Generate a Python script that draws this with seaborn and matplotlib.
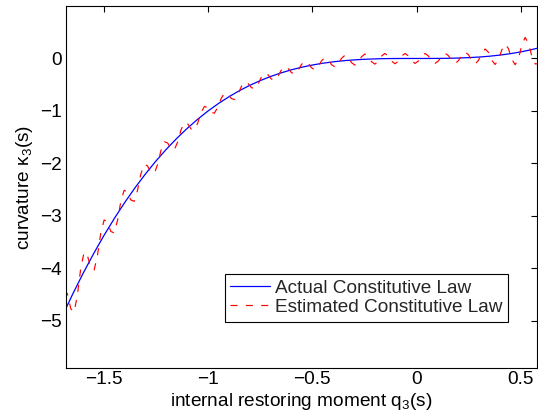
import matplotlib
matplotlib.use("Agg")
import matplotlib.pyplot as plt
import seaborn as sns
import pandas as pd

# ---------------- data ----------------
q_actual = [-1.70, -1.65, -1.60, -1.55, -1.50, -1.45, -1.40, -1.35, -1.30, -1.25,
            -1.20, -1.15, -1.10, -1.05, -1.00, -0.95, -0.90, -0.85, -0.80, -0.75,
            -0.70, -0.65, -0.60, -0.55, -0.50, -0.45, -0.40, -0.35, -0.30, -0.25,
            -0.20, -0.15, -0.10, -0.05, 0.00, 0.05, 0.10, 0.15, 0.20, 0.25,
            0.30, 0.35, 0.40, 0.45, 0.50, 0.55, 0.60]
k_actual = [-4.913, -4.492, -4.096, -3.724, -3.375, -3.049, -2.744, -2.460, -2.197, -1.953,
            -1.728, -1.521, -1.331, -1.158, -1.000, -0.857, -0.729, -0.614, -0.512, -0.422,
            -0.343, -0.275, -0.216, -0.166, -0.125, -0.091, -0.064, -0.043, -0.027, -0.016,
            -0.008, -0.003, -0.001, 0.000, 0.000, 0.000, 0.001, 0.003, 0.008, 0.016,
            0.027, 0.043, 0.064, 0.091, 0.125, 0.166, 0.216]

q_est = [-1.691, -1.675, -1.659, -1.643, -1.627, -1.611, -1.595, -1.579, -1.563, -1.547,
         -1.531, -1.515, -1.499, -1.483, -1.467, -1.451, -1.435, -1.419, -1.403, -1.387,
         -1.371, -1.355, -1.339, -1.323, -1.307, -1.291, -1.274, -1.258, -1.242, -1.226,
         -1.210, -1.194, -1.178, -1.162, -1.146, -1.130, -1.114, -1.098, -1.082, -1.066,
         -1.050, -1.034, -1.018, -1.002, -0.986, -0.970, -0.954, -0.937, -0.921, -0.905,
         -0.889, -0.873, -0.857, -0.841, -0.825, -0.809, -0.793, -0.777, -0.761, -0.745,
         -0.729, -0.713, -0.697, -0.681, -0.665, -0.649, -0.633, -0.617, -0.601, -0.585,
         -0.569, -0.553, -0.536, -0.520, -0.504, -0.488, -0.472, -0.456, -0.440, -0.424,
         -0.408, -0.392, -0.376, -0.360, -0.344, -0.328, -0.312, -0.296, -0.280, -0.264,
         -0.248, -0.232, -0.216, -0.200, -0.184, -0.168, -0.152, -0.135, -0.119, -0.103,
         -0.087, -0.071, -0.055, -0.039, -0.023, -0.007, 0.009, 0.025, 0.041, 0.057,
         0.073, 0.089, 0.105, 0.121, 0.137, 0.153, 0.169, 0.186, 0.201, 0.217,
         0.233, 0.249, 0.265, 0.281, 0.297, 0.313, 0.329, 0.345, 0.361, 0.377,
         0.393, 0.409, 0.425, 0.441, 0.457, 0.473, 0.489, 0.505, 0.521, 0.537,
         0.554, 0.570, 0.586]
k_est = [-4.405, -4.489, -4.771, -4.835, -4.502, -3.991, -3.693, -3.759, -3.991, -4.032,
         -3.749, -3.327, -3.078, -3.119, -3.297, -3.325, -3.088, -2.727, -2.512, -2.545,
         -2.697, -2.723, -2.516, -2.206, -2.018, -2.047, -2.171, -2.191, -2.014, -1.748,
         -1.587, -1.612, -1.723, -1.739, -1.589, -1.360, -1.222, -1.245, -1.344, -1.361,
         -1.232, -1.034, -0.915, -0.937, -1.026, -1.043, -0.932, -0.760, -0.657, -0.680,
         -0.763, -0.783, -0.687, -0.537, -0.449, -0.473, -0.554, -0.579, -0.495, -0.360,
         -0.281, -0.309, -0.391, -0.419, -0.345, -0.222, -0.154, -0.185, -0.267, -0.300,
         -0.234, -0.119, -0.054, -0.091, -0.178, -0.216, -0.155, -0.045, 0.015, -0.026,
         -0.118, -0.160, -0.103, 0.003, 0.059, 0.015, -0.080, -0.126, -0.072, 0.032,
         0.085, 0.038, -0.060, -0.108, -0.056, 0.045, 0.096, 0.048, -0.052, -0.101,
         -0.051, 0.050, 0.095, 0.048, -0.048, -0.095, -0.048, 0.048, 0.095, 0.048,
         -0.048, -0.094, -0.047, 0.050, 0.100, 0.053, -0.045, -0.094, -0.042, 0.063,
         0.123, 0.073, -0.041, -0.103, -0.039, 0.098, 0.181, 0.117, -0.033, -0.114,
         -0.027, 0.161, 0.272, 0.188, -0.012, -0.119, -0.002, 0.254, 0.401, 0.290,
         0.030, -0.105, -0.099]

x_ticks = [-1.5, -1.0, -0.5, 0.0, 0.5]
x_tick_labels = ["\u22121.5", "\u22121", "\u22120.5", "0", "0.5"]
y_ticks = [-5, -4, -3, -2, -1, 0]
y_tick_labels = ["\u22125", "\u22124", "\u22123", "\u22122", "\u22121", "0"]

label_actual = "Actual Constitutive Law"
label_est = "Estimated Constitutive Law"

# ---------------- style ----------------
sns.set_theme(style="white")
plt.rcParams["font.family"] = ["Liberation Sans", "DejaVu Sans"]
plt.rcParams["mathtext.fontset"] = "custom"
plt.rcParams["mathtext.rm"] = "Liberation Sans"
plt.rcParams["mathtext.default"] = "regular"
FS = 13.7

df_act = pd.DataFrame({"q": q_actual, "k": k_actual})
df_est = pd.DataFrame({"q": q_est, "k": k_est})

fig = plt.figure(figsize=(5.38, 4.16), dpi=100)
ax = fig.add_axes([66 / 538, (416 - 368) / 416, 471 / 538, 362 / 416])

sns.lineplot(data=df_act, x="q", y="k", ax=ax, color=(0, 0, 1), linewidth=0.9,
             label=label_actual, sort=False, estimator=None)
sns.lineplot(data=df_est, x="q", y="k", ax=ax, color=(1, 0, 0), linewidth=0.85,
             linestyle=(0, (6.0, 7.0)), label=label_est, sort=False, estimator=None)

ax.set_xlim(-1.682, 0.578)
ax.set_ylim(-5.9, 1.0)
ax.set_xticks(x_ticks)
ax.set_xticklabels(x_tick_labels)
ax.set_yticks(y_ticks)
ax.set_yticklabels(y_tick_labels)

ax.tick_params(axis="both", which="major", direction="in", length=4, width=0.8,
               top=True, right=True, labelsize=FS, colors="black", pad=3)
ax.tick_params(axis="x", pad=2.5)
for sp in ax.spines.values():
    sp.set_visible(True)
    sp.set_color("black")
    sp.set_linewidth(0.8)

ax.set_xlabel("internal restoring moment q$_3$(s)", fontsize=FS, labelpad=1.5, color="black")
ax.set_ylabel("curvature \u03ba$_3$(s)", fontsize=FS, labelpad=4, color="black")

leg = ax.legend(loc="upper right", bbox_to_anchor=(0.9384, 0.2597), borderaxespad=0,
                fontsize=FS, frameon=True, fancybox=False, shadow=False,
                handlelength=2.09, handletextpad=0.26, borderpad=0.29,
                labelspacing=0.1, framealpha=1)
leg.get_frame().set_edgecolor("black")
leg.get_frame().set_linewidth(0.8)

fig.savefig("out.png", dpi=100)
